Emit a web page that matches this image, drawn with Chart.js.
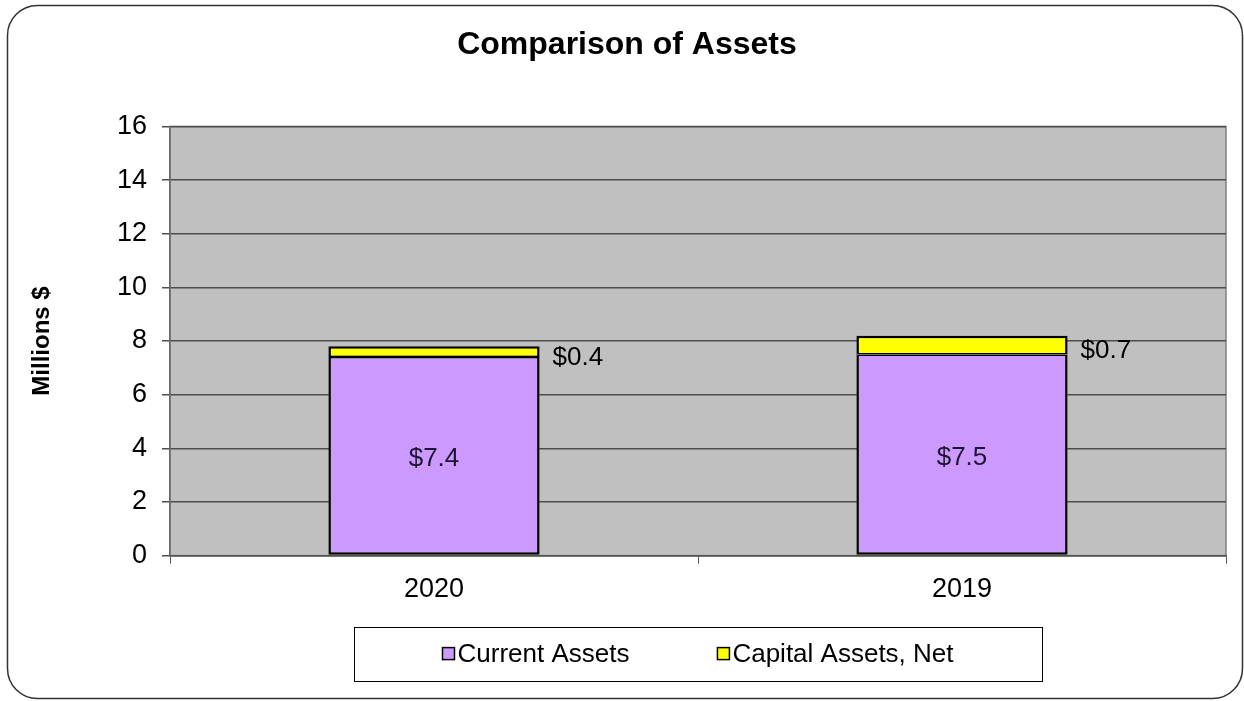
<!DOCTYPE html>
<html>
<head>
<meta charset="utf-8">
<script src="https://cdn.jsdelivr.net/npm/chart.js@4.4.0/dist/chart.umd.min.js"></script>
<style>
  html, body { margin: 0; padding: 0; background: #ffffff; }
  #wrap { width: 1244px; height: 701px; }
</style>
</head>
<body>
<div id="wrap"><canvas id="assets_chart"></canvas></div>
<script>
// values (millions of dollars)
var years = ["2020", "2019"];
var current_assets = [7.4, 7.5];
var capital_assets = [0.4, 0.7];
var series_names = ["Current Assets", "Capital Assets, Net"];
var y_min = 0;
var y_max = 16;
var y_step = 2;

var font_family = "'Liberation Sans', Arial, Helvetica, sans-serif";
Chart.defaults.font.family = font_family;
Chart.defaults.color = "#000000";

// grey plot area, rounded outer frame and the boxed legend
var frame_plugin = {
    id: "frame_plugin",
    beforeDraw: function (chart) {
        var ctx = chart.ctx;
        var area = chart.chartArea;
        ctx.save();
        ctx.fillStyle = "#ffffff";
        ctx.fillRect(0, 0, chart.width, chart.height);
        ctx.fillStyle = "#c0c0c0";
        ctx.fillRect(area.left, area.top, area.right - area.left, area.bottom - area.top);
        ctx.strokeStyle = "#808080";
        ctx.lineWidth = 1.5;
        ctx.strokeRect(area.left, area.top, area.right - area.left, area.bottom - area.top);
        ctx.restore();
    },
    afterDraw: function (chart) {
        var ctx = chart.ctx;
        var area = chart.chartArea;
        ctx.save();
        ctx.strokeStyle = "#333333";
        ctx.lineWidth = 1.5;
        ctx.beginPath();
        ctx.roundRect(7.5, 5.5, chart.width - 9, chart.height - 8, 30);
        ctx.stroke();

        // legend: box under the x axis, items spread out like the original
        var mid_x = (area.left + area.right) / 2;
        var mid_y = area.bottom + 98;
        ctx.strokeStyle = "#000000";
        ctx.lineWidth = 1;
        ctx.strokeRect(Math.round(mid_x - 344) + 0.5, Math.round(mid_y - 27) + 0.5, 688, 54);

        ctx.font = "26px " + font_family;
        ctx.textBaseline = "middle";
        ctx.textAlign = "left";
        var gap = 88;
        var widths = chart.data.datasets.map(function (ds) {
            return 15 + ctx.measureText(ds.label).width;
        });
        var total = widths[0] + gap + widths[1];
        var x = mid_x - total / 2;
        chart.data.datasets.forEach(function (ds, i) {
            ctx.fillStyle = ds.backgroundColor;
            ctx.fillRect(x, mid_y - 6, 12, 12);
            ctx.lineWidth = 1.5;
            ctx.strokeStyle = "#000000";
            ctx.strokeRect(x, mid_y - 6, 12, 12);
            ctx.fillStyle = "#000000";
            ctx.fillText(ds.label, x + 15, mid_y + 1);
            x += widths[i] + gap;
        });
        ctx.restore();
    }
};

// "$x.x" labels: inside the purple bars, to the right of the yellow ones
var label_plugin = {
    id: "label_plugin",
    afterDatasetsDraw: function (chart) {
        var ctx = chart.ctx;
        ctx.save();
        ctx.font = "26px " + font_family;
        ctx.textBaseline = "middle";
        chart.data.datasets.forEach(function (ds, i) {
            var meta = chart.getDatasetMeta(i);
            meta.data.forEach(function (bar, j) {
                var text = "$" + ds.data[j].toFixed(1);
                var mid_y = (bar.y + bar.base) / 2;
                if (i == 0) {
                    ctx.fillStyle = "#1c1430";
                    ctx.textAlign = "center";
                    ctx.fillText(text, bar.x, mid_y + 3);
                } else {
                    ctx.fillStyle = "#000000";
                    ctx.textAlign = "left";
                    ctx.fillText(text, bar.x + bar.width / 2 + 13, mid_y + 6);
                }
            });
        });
        ctx.restore();
    }
};

var chart_assets = new Chart(document.getElementById("assets_chart"), {
    type: "bar",
    data: {
        labels: years,
        datasets: [
            {
                label: series_names[0],
                data: current_assets,
                backgroundColor: "#cc99ff",
                borderColor: "#000000",
                borderWidth: { top: 1.5, left: 2.5, right: 2.5, bottom: 2.5 },
                borderSkipped: false,
                categoryPercentage: 1,
                barPercentage: 0.4
            },
            {
                label: series_names[1],
                data: capital_assets,
                backgroundColor: "#ffff00",
                borderColor: "#000000",
                borderWidth: { top: 2.5, left: 2.5, right: 2.5, bottom: 1.5 },
                borderSkipped: false,
                categoryPercentage: 1,
                barPercentage: 0.4
            }
        ]
    },
    options: {
        responsive: true,
        maintainAspectRatio: false,
        animation: false,
        layout: { padding: { left: 28, right: 18, top: 0, bottom: 85 } },
        plugins: {
            title: {
                display: true,
                text: "Comparison of Assets",
                color: "#000000",
                font: { size: 32, weight: "bold" },
                padding: { top: 26, bottom: 62 }
            },
            legend: { display: false },
            tooltip: { enabled: false }
        },
        scales: {
            x: {
                stacked: true,
                grid: { drawOnChartArea: false, drawTicks: true, tickLength: 8, color: "#555555", offset: true },
                border: { display: true, color: "#555555", width: 1.5 },
                ticks: { color: "#000000", font: { size: 27 }, padding: 10 }
            },
            y: {
                stacked: true,
                min: y_min,
                max: y_max,
                ticks: { stepSize: y_step, color: "#000000", font: { size: 27 }, padding: 15 },
                grid: { color: "#4d4d4d", lineWidth: 1.5, tickLength: 8 },
                border: { color: "#666666", width: 1.5 },
                title: {
                    display: true,
                    text: "Millions $",
                    color: "#000000",
                    font: { size: 24, weight: "bold" },
                    padding: { top: 0 }
                },
                afterFit: function (scale) { scale.width = 142; }
            }
        }
    },
    plugins: [frame_plugin, label_plugin]
});
</script>
</body>
</html>
